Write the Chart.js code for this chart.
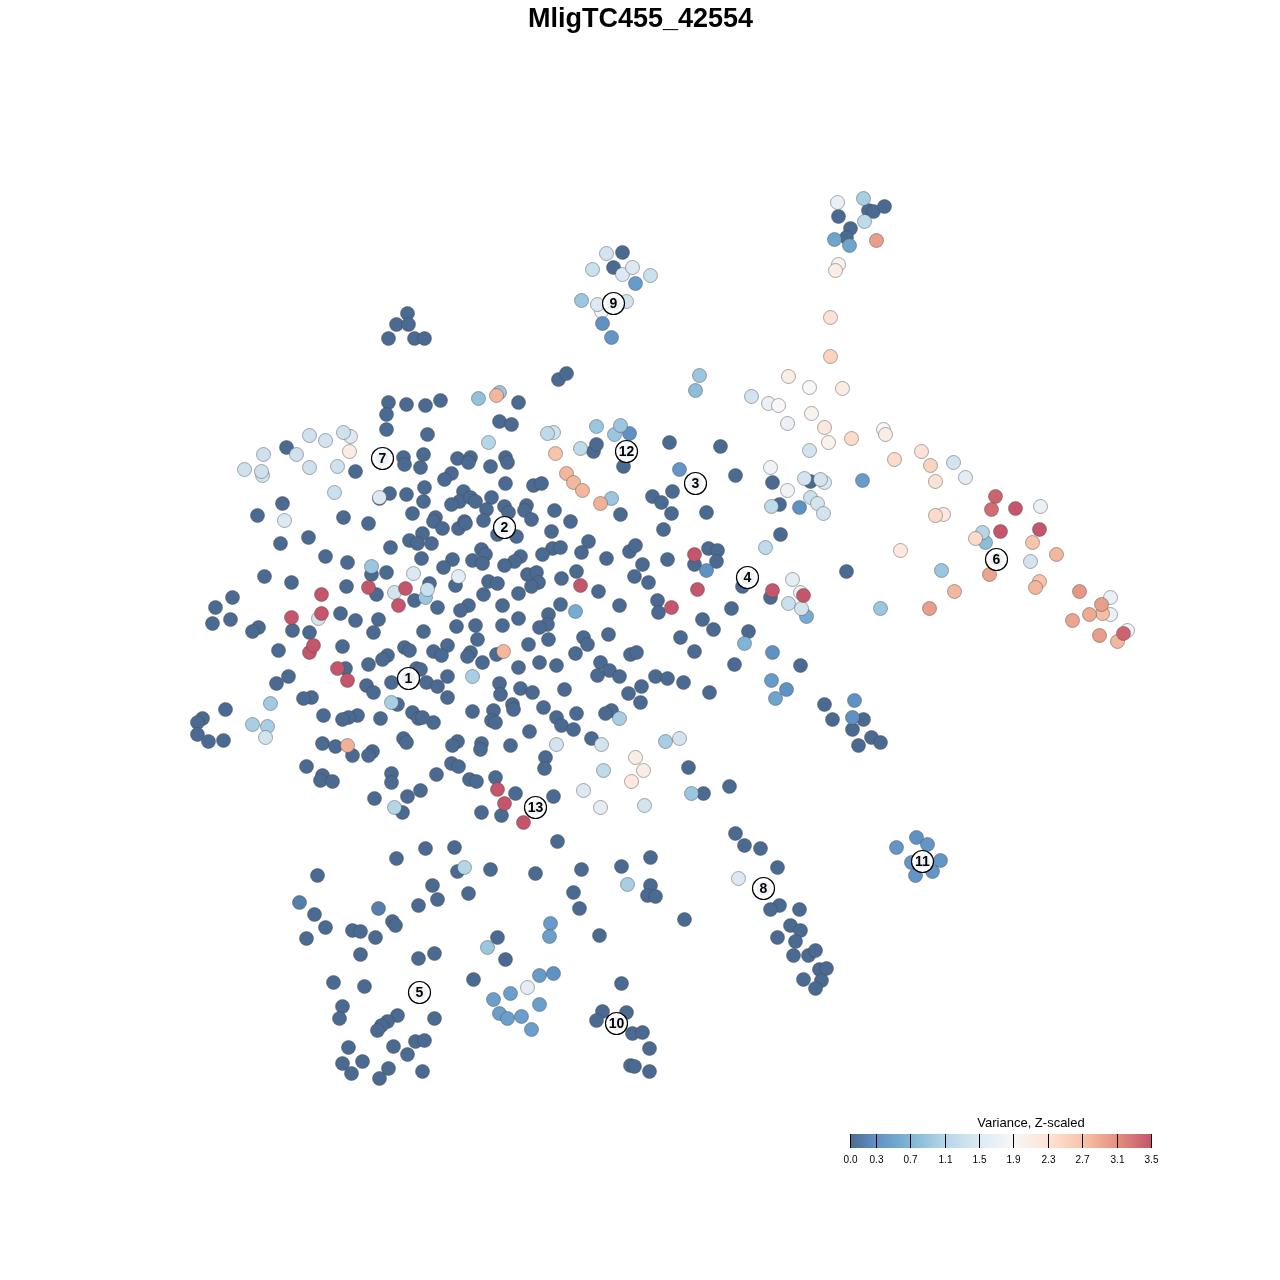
<!DOCTYPE html>
<html>
<head>
<meta charset="utf-8">
<title>MligTC455_42554</title>
<script src="https://cdn.jsdelivr.net/npm/chart.js@4"></script>
<style>
  body { margin: 0; background: #fff; }
  canvas { display: block; }
</style>
</head>
<body>
<canvas id="tsne" width="1280" height="1280"></canvas>
<script>
// t-SNE embedding, cells at variance ~0 (x, y)
const zeroCells = [
  [388,402],[406,404],[386,414],[386,429],[286,447],[403,457],[404,464],[355,471],[389,493],[406,494],
  [379,498],[282,503],[257,515],[343,517],[368,523],[412,513],[308,537],[280,543],[390,547],[409,540],
  [325,556],[347,562],[371,574],[386,572],[264,576],[291,582],[346,586],[376,594],[414,600],[232,597],
  [215,607],[230,619],[212,623],[340,613],[355,620],[378,619],[258,627],[252,631],[292,630],[309,632],
  [373,632],[278,650],[342,646],[404,647],[409,650],[387,655],[382,659],[368,664],[345,668],[288,676],
  [276,683],[366,685],[373,692],[391,682],[311,697],[303,698],[397,704],[225,709],[202,718],[197,722],
  [197,734],[208,741],[223,740],[323,715],[357,715],[348,717],[342,719],[380,718],[412,712],[418,718],
  [403,738],[406,742],[322,743],[335,746],[352,755],[372,751],[368,755],[306,766],[322,775],[320,780],
  [332,781],[391,773],[391,782],[420,790],[407,796],[374,798],[402,812],[416,668],
  [440,400],[425,405],[518,402],[499,421],[511,424],[427,434],[423,454],[457,458],[470,457],[468,462],
  [490,466],[505,457],[507,462],[420,467],[451,473],[444,479],[505,483],[533,485],[541,483],[424,487],
  [423,501],[463,491],[459,501],[451,504],[470,497],[475,501],[491,497],[486,509],[504,506],[508,512],
  [526,505],[524,510],[531,519],[554,510],[570,521],[483,520],[435,517],[433,521],[442,528],[458,528],
  [464,521],[465,523],[497,534],[516,536],[551,531],[588,541],[581,552],[552,548],[560,547],[542,554],
  [520,556],[514,561],[504,565],[481,549],[485,554],[472,560],[482,563],[452,559],[443,567],[421,558],
  [422,533],[417,543],[431,543],[606,558],[629,551],[635,545],[642,564],[634,576],[648,582],[576,571],
  [561,578],[527,574],[536,572],[538,582],[531,586],[518,593],[488,581],[497,583],[483,594],[455,585],
  [429,583],[598,591],[560,604],[619,605],[502,605],[468,605],[460,610],[437,607],[548,614],[518,618],
  [657,600],[658,612],[623,466],[593,451],[596,444],[620,514],[652,496],[661,502],[663,529],
  [475,625],[456,626],[502,625],[547,624],[539,627],[528,644],[548,639],[583,637],[587,644],[608,634],
  [477,639],[423,631],[447,645],[433,651],[441,655],[470,652],[467,656],[482,662],[496,654],[518,667],
  [539,662],[556,665],[575,653],[630,654],[636,652],[600,662],[609,670],[597,675],[619,676],[655,676],
  [667,678],[683,682],[641,686],[628,693],[640,702],[564,689],[520,688],[532,692],[499,683],[500,694],
  [426,682],[437,686],[447,676],[447,697],[420,669],[543,707],[512,704],[513,709],[493,710],[472,711],
  [491,720],[495,722],[433,722],[422,717],[556,717],[576,713],[611,710],[605,713],[561,725],[573,729],
  [529,731],[591,738],[510,745],[457,741],[452,745],[481,743],[480,749],[545,757],[544,768],[451,763],
  [458,766],[436,774],[469,779],[476,781],[495,777],[515,793],[553,796],[481,812],[501,815],[557,841],
  [669,442],[720,446],[735,475],[672,491],[671,513],[706,512],[772,482],[810,481],[779,504],[780,534],
  [667,559],[708,548],[717,550],[716,561],[694,564],[846,571],[742,586],[770,597],[731,608],[702,619],
  [713,629],[680,637],[748,631],[694,651],[734,664],[800,665],[709,692],
  [688,767],[703,793],[729,786],[735,833],[744,845],[760,848],[777,867],[779,905],[770,909],[799,909],
  [790,925],[800,930],[777,937],[795,941],[793,955],[808,955],[815,950],[819,969],[826,968],[821,980],
  [803,979],[815,988],[824,704],[832,719],[863,719],[852,729],[858,745],[871,737],[880,742],
  [396,858],[425,848],[454,847],[317,875],[490,869],[457,871],[535,873],[581,869],[621,866],[650,857],
  [432,885],[650,885],[573,892],[647,895],[655,896],[468,893],[437,899],[418,905],[579,908],[684,919],
  [314,914],[392,921],[395,925],[325,927],[352,930],[360,931],[375,937],[306,938],[497,937],[599,935],
  [360,954],[434,953],[418,958],[505,959],[333,982],[364,986],[473,979],[621,983],[342,1006],[339,1018],
  [397,1015],[434,1018],[387,1021],[381,1025],[377,1030],[602,1011],[626,1012],[596,1020],[632,1033],[642,1032],
  [649,1048],[348,1047],[393,1046],[415,1041],[424,1040],[407,1054],[342,1063],[362,1061],[388,1068],[351,1073],
  [379,1078],[422,1071],[630,1065],[634,1066],[649,1071],
  [388,338],[396,324],[407,313],[408,324],[414,338],[424,338],[558,379],[566,373],[622,252],[613,267],
  [838,216],[868,210],[873,211],[884,206],[850,228],[846,237]
];

// everything above zero (x, y, variance)
const expressedCells = [
  [837,202,1.7],[863,198,1.0],[864,221,1.2],[834,239,0.5],[849,245,0.5],[876,240,3.0],[838,264,2.0],[835,270,2.1],
  [606,253,1.4],[592,269,1.3],[622,274,1.5],[632,267,1.5],[650,275,1.3],[635,283,0.4],[581,300,0.9],[601,311,1.8],
  [626,301,1.4],[597,304,1.5],[602,323,0.3],[611,337,0.35],
  [830,317,2.3],[830,356,2.5],[699,375,0.9],[695,390,0.8],[788,376,2.1],[809,387,1.9],[842,388,2.1],[751,396,1.4],
  [768,403,1.7],[778,405,1.9],[811,413,2.0],[787,423,1.7],[824,427,2.2],[828,442,2.0],[851,438,2.4],[883,429,1.9],
  [885,434,2.1],[809,450,1.4],[894,459,2.4],[921,451,2.3],[930,465,2.5],[953,462,1.4],[965,477,1.6],[935,481,2.3],
  [770,467,1.8],[824,482,1.5],[804,478,1.4],[820,479,1.4],[862,480,0.4],[787,490,1.8],[810,497,1.3],[817,503,1.4],
  [823,513,1.4],[771,506,1.2],[799,507,0.3],[765,547,1.2],[679,469,0.35],[706,570,0.3],
  [995,496,3.4],[991,509,3.35],[1015,508,3.5],[1040,506,1.7],[943,514,2.2],[935,515,2.4],[1000,531,3.5],[1039,529,3.5],
  [985,542,0.8],[982,532,1.1],[975,538,2.4],[1032,542,2.7],[1056,554,2.8],[1030,561,1.4],[900,550,2.2],[941,570,0.9],
  [989,574,2.95],[1039,581,2.7],[1035,587,2.8],[954,591,2.8],[929,608,3.0],[880,608,0.9],[1079,591,3.05],[1110,597,1.7],
  [1110,614,1.7],[1102,613,2.75],[1101,604,3.0],[1089,614,2.9],[1072,620,2.95],[1127,630,1.8],[1099,635,3.0],[1117,641,2.8],[1123,633,3.4],
  [694,554,3.5],[697,589,3.5],[671,607,3.5],[792,579,1.6],[800,592,1.7],[806,616,0.6],[788,603,1.3],[801,608,1.4],
  [772,590,3.5],[803,595,3.5],[744,643,0.7],[772,652,0.3],[771,680,0.4],[786,689,0.3],[775,698,0.5],[854,700,0.3],[852,717,0.3],
  [499,392,0.9],[478,398,0.85],[496,395,2.8],[488,442,1.1],[553,432,1.4],[547,433,1.2],[596,426,0.9],[614,434,0.9],
  [629,433,0.3],[620,425,0.9],[580,448,1.2],[555,453,2.7],[566,473,2.8],[573,482,2.8],[582,490,2.8],[611,498,0.9],[600,503,2.85],
  [458,576,1.6],[580,585,3.5],[575,611,0.6],[425,597,0.9],[427,589,1.3],
  [263,454,1.35],[244,469,1.35],[262,475,1.4],[261,471,1.35],[296,454,1.35],[309,435,1.35],[325,440,1.4],[350,436,1.5],
  [343,432,1.35],[349,451,2.1],[309,467,1.35],[337,466,1.35],[334,492,1.3],[379,497,1.5],[284,520,1.5],[371,566,0.9],
  [413,573,1.5],[368,587,3.5],[321,594,3.5],[394,592,1.4],[405,588,3.5],[398,605,3.5],[318,618,1.4],[321,613,3.5],[291,617,3.5],
  [309,652,3.5],[313,645,3.5],[337,668,3.5],[347,680,3.5],[270,703,0.95],[252,724,1.0],[267,726,1.0],[265,737,1.4],
  [391,702,1.0],[347,745,2.85],[394,807,1.1],
  [472,676,1.0],[503,651,2.8],[619,718,1.0],[556,744,1.4],[601,744,1.4],[635,757,2.1],[643,770,2.1],[631,781,2.2],
  [603,770,1.2],[583,790,1.5],[600,807,1.6],[644,805,1.4],[497,789,3.5],[504,803,3.5],[523,822,3.5],[665,741,1.0],[679,738,1.4],[691,793,0.9],
  [738,878,1.5],[464,867,1.1],[627,884,1.0],[487,947,0.9],[550,923,0.4],[549,936,0.45],[378,908,0.15],[299,902,0.15],
  [539,975,0.4],[553,973,0.3],[510,993,0.45],[527,987,1.6],[493,999,0.45],[539,1004,0.45],[499,1013,0.45],[507,1018,0.45],
  [521,1016,0.45],[531,1029,0.45],
  [896,847,0.35],[916,837,0.3],[927,844,0.35],[911,862,0.35],[940,860,0.35],[915,875,0.35],[932,871,0.35]
];

// cluster centres and their numbers
const clusterX = [408, 504, 695, 747, 419, 996, 382, 763, 613, 616, 922, 626, 535];
const clusterY = [678, 527, 483, 577, 992, 559, 458, 888, 303, 1023, 861, 451, 807];
const clusterNames = ["1", "2", "3", "4", "5", "6", "7", "8", "9", "10", "11", "12", "13"];

const varianceTicks = [0, 0.3, 0.7, 1.1, 1.5, 1.9, 2.3, 2.7, 3.1, 3.5];
const tickLabels = ["0.0", "0.3", "0.7", "1.1", "1.5", "1.9", "2.3", "2.7", "3.1", "3.5"];
const rampColors = ["#4a6a92", "#5f92c4", "#7fb5d6", "#b4d6e7", "#dde9f2", "#f7f7f7",
                    "#fde3d6", "#f8c4a9", "#e4917e", "#c4556a"];

const plotTitle = "MligTC455_42554";
const legendTitle = "Variance, Z-scaled";

function hexToRgb(h) {
  return [1, 3, 5].map(function (i) { return parseInt(h.slice(i, i + 2), 16); });
}

function varianceColor(v) {
  let i = 0;
  while (i < varianceTicks.length - 2 && v > varianceTicks[i + 1]) i++;
  const t = (v - varianceTicks[i]) / (varianceTicks[i + 1] - varianceTicks[i]);
  const a = hexToRgb(rampColors[i]);
  const b = hexToRgb(rampColors[i + 1]);
  const c = a.map(function (x, k) { return Math.round(x + (b[k] - x) * t); });
  return "rgb(" + c.join(",") + ")";
}

const titleAndColorbar = {
  id: "titleAndColorbar",
  afterDraw: function (chart) {
    const ctx = chart.ctx;
    ctx.save();
    ctx.textAlign = "center";
    ctx.textBaseline = "middle";
    ctx.fillStyle = "#000";
    ctx.font = "bold 27px 'Liberation Sans'";
    ctx.fillText(plotTitle, 640.5, 19.5);

    // colour bar, 0 to 3.5 across 850..1151
    const left = 850, right = 1151, top = 1134, bottom = 1148;
    const span = varianceTicks[varianceTicks.length - 1];
    const grad = ctx.createLinearGradient(left, 0, right, 0);
    varianceTicks.forEach(function (v, i) { grad.addColorStop(v / span, rampColors[i]); });
    ctx.fillStyle = grad;
    ctx.fillRect(left, top, right - left, bottom - top);
    ctx.fillStyle = "#000";
    ctx.font = "13px 'Liberation Sans'";
    ctx.fillText(legendTitle, 1031, 1123);
    ctx.font = "10px 'Liberation Sans'";
    ctx.strokeStyle = "#000";
    ctx.lineWidth = 1;
    varianceTicks.forEach(function (v, i) {
      const x = Math.round(left + (right - left) * v / span) + 0.5;
      ctx.beginPath();
      ctx.moveTo(x, top);
      ctx.lineTo(x, bottom);
      ctx.stroke();
      ctx.fillText(tickLabels[i], x, 1160);
    });

    // cluster numbers
    const xs = chart.scales.x, ys = chart.scales.y;
    ctx.font = "bold 14px 'Liberation Sans'";
    clusterNames.forEach(function (name, i) {
      ctx.fillText(name, xs.getPixelForValue(clusterX[i]), ys.getPixelForValue(clusterY[i]) + 0.5);
    });
    ctx.restore();
  }
};

const cells = zeroCells.map(function (c) { return { x: c[0], y: c[1], v: 0 }; })
  .concat(expressedCells.map(function (c) { return { x: c[0], y: c[1], v: c[2] }; }));
const clusterPoints = clusterX.map(function (x, i) { return { x: x, y: clusterY[i] }; });

new Chart(document.getElementById("tsne").getContext("2d"), {
  type: "scatter",
  data: {
    datasets: [
      {
        label: "cluster centres",
        data: clusterPoints,
        order: 1,
        pointRadius: 7,
        pointBorderWidth: 0,
        pointBackgroundColor: "#edf2f7"
      },
      {
        label: "clusters",
        data: clusterPoints,
        order: 2,
        pointRadius: 11,
        pointBackgroundColor: "#fff",
        pointBorderColor: "#000",
        pointBorderWidth: 1.2
      },
      {
        label: "cells",
        data: cells,
        order: 3,
        pointRadius: 7,
        pointBorderWidth: 1,
        pointBorderColor: "rgba(70,70,70,0.45)",
        pointBackgroundColor: function (c) { return varianceColor(c.raw.v); }
      }
    ]
  },
  options: {
    responsive: false,
    animation: false,
    layout: { padding: 0, autoPadding: false },
    plugins: {
      legend: { display: false },
      title: { display: false },
      tooltip: { enabled: false }
    },
    scales: {
      // pixel-read positions sit at pixel centres, hence the half unit
      x: { type: "linear", display: false, min: -0.5, max: 1279.5 },
      y: { type: "linear", display: false, min: -0.5, max: 1279.5, reverse: true }
    }
  },
  plugins: [titleAndColorbar]
});
</script>
</body>
</html>
